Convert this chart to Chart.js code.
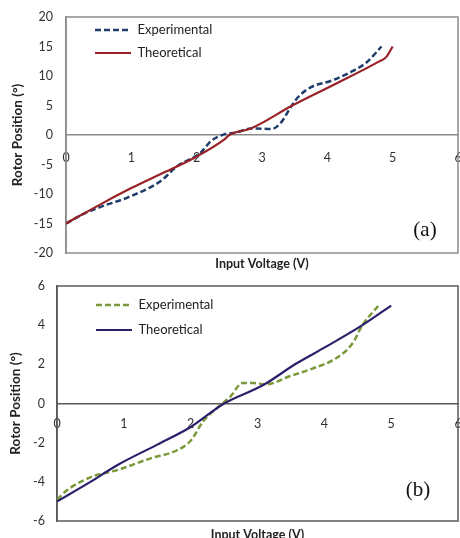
<!DOCTYPE html>
<html>
<head>
<meta charset="utf-8">
<script src="https://cdn.jsdelivr.net/npm/chart.js@4.4.1/dist/chart.umd.min.js"></script>
<style>
  html, body { margin: 0; padding: 0; background: #fff; }
  body { width: 460px; height: 538px; overflow: hidden; position: relative; }
  .box { position: absolute; left: 0; width: 462px; }
  #boxA { top: 0; height: 275px; }
  #boxB { top: 276px; height: 270px; }
</style>
</head>
<body>
<div class="box" id="boxA"><canvas id="chartA"></canvas></div>
<div class="box" id="boxB"><canvas id="chartB"></canvas></div>
<script>
// panel (a)
var expVoltA = [0, 0.3, 0.55, 0.94, 1.45, 1.7, 2.06, 2.22, 2.42, 2.6, 2.83, 2.93, 3.14, 3.29, 3.45, 3.55, 3.75, 4.06, 4.4, 4.6, 4.83];
var expPosA = [-15, -13.2, -12.1, -10.6, -7.8, -5.3, -3.0, -1.0, 0.1, 0.4, 1.1, 1.1, 1.0, 2.1, 4.9, 6.4, 8.1, 9.2, 10.9, 12.3, 15.0];
var theoVoltA = [0, 0.57, 1.0, 1.45, 1.96, 2.42, 2.5, 2.83, 3.45, 4.06, 4.78, 4.9, 5.0];
var theoPosA = [-15, -11.5, -9.0, -6.6, -3.9, -0.8, 0, 1.1, 4.9, 8.3, 12.4, 13.2, 15.0];
var yTicksA = [-20, -15, -10, -5, 0, 5, 10, 15, 20];

// panel (b)
var expVoltB = [0, 0.16, 0.55, 0.9, 1.4, 1.79, 2.0, 2.19, 2.44, 2.59, 2.78, 2.93, 3.13, 3.48, 3.82, 4.17, 4.42, 4.57, 4.81];
var expPosB = [-4.9, -4.4, -3.7, -3.4, -2.8, -2.4, -1.9, -0.9, -0.1, 0.34, 1.05, 1.05, 0.98, 1.39, 1.78, 2.3, 3.06, 4.0, 5.0];
var theoVoltB = [0, 0.5, 0.9, 1.5, 2.0, 2.5, 3.08, 3.58, 4.02, 4.57, 5.0];
var theoPosB = [-5, -4.0, -3.15, -2.1, -1.2, 0, 0.93, 2.04, 2.89, 4.0, 5.0];
var yTicksB = [-6, -4, -2, 0, 2, 4, 6];

var xTicks = [0, 1, 2, 3, 4, 5, 6];
var seriesNames = ['Experimental', 'Theoretical'];

Chart.defaults.font.family = 'Lato';
Chart.defaults.color = '#333';

function pairs(xs, ys) {
    return xs.map(function (x, i) { return { x: x, y: ys[i] }; });
}

// legend placement, frame and the (a)/(b) tag
var panelPlugin = {
    id: 'panel',
    afterLayout: function (chart, args, opts) {
        var lg = chart.legend;
        if (!lg) return;
        var w = lg.width, h = lg.height;
        lg.left = opts.legendX - opts.legendPad;
        lg.top = opts.legendY - opts.legendPad - opts.legendFont / 2;
        lg.right = lg.left + w;
        lg.bottom = lg.top + h;
    },
    beforeDatasetsDraw: function (chart, args, opts) {
        var a = chart.chartArea, ctx = chart.ctx;
        ctx.save();
        ctx.strokeStyle = opts.frameColor;
        ctx.lineWidth = 1.5;
        ctx.strokeRect(a.left, a.top, a.right - a.left, a.bottom - a.top);
        ctx.restore();
    },
    afterDraw: function (chart, args, opts) {
        var a = chart.chartArea, ctx = chart.ctx;
        ctx.save();
        ctx.font = '21px "Liberation Serif"';
        ctx.fillStyle = '#111';
        ctx.textAlign = 'center';
        ctx.textBaseline = 'middle';
        ctx.fillText(opts.tag, a.right - opts.tagDx, a.bottom - opts.tagDy);
        ctx.restore();
    }
};

function legendLabels(chart) {
    var items = Chart.defaults.plugins.legend.labels.generateLabels(chart);
    items.forEach(function (it) {
        var ds = chart.data.datasets[it.datasetIndex];
        it.lineDash = ds.borderDash || [];
        it.lineWidth = ds.borderWidth;
    });
    items.sort(function (a, b) { return a.datasetIndex - b.datasetIndex; });
    return items;
}

function makeChart(id, p) {
    var ctx = document.getElementById(id).getContext('2d');
    return new Chart(ctx, {
        type: 'line',
        data: {
            datasets: [{
                label: seriesNames[0],
                data: pairs(p.expVolt, p.expPos),
                borderColor: p.expColor,
                borderWidth: 2.5,
                borderDash: [6, 3],
                pointRadius: 0,
                cubicInterpolationMode: 'monotone',
                pointStyle: 'line',
                order: 1
            }, {
                label: seriesNames[1],
                data: pairs(p.theoVolt, p.theoPos),
                borderColor: p.theoColor,
                borderWidth: 2.2,
                pointRadius: 0,
                cubicInterpolationMode: 'monotone',
                pointStyle: 'line',
                order: 0
            }]
        },
        options: {
            responsive: true,
            maintainAspectRatio: false,
            animation: false,
            layout: { padding: { top: p.padTop, right: 4, bottom: 0, left: 0 } },
            scales: {
                x: {
                    type: 'linear',
                    position: { y: 0 },
                    min: 0, max: 6,
                    afterBuildTicks: function (s) { s.ticks = xTicks.map(function (v) { return { value: v }; }); },
                    afterFit: function (s) { s.height = 0; s.paddingLeft = 0; s.paddingRight = 0; },
                    grid: { display: false, drawTicks: false },
                    border: { display: true, color: p.zeroColor, width: 1.5 },
                    ticks: { font: { size: 12.5 }, padding: p.xTickPad, maxRotation: 0 }
                },
                xt: {
                    type: 'linear',
                    position: 'bottom',
                    min: 0, max: 6,
                    afterFit: function (s) { s.height = p.xTitleH; },
                    grid: { display: false, drawTicks: false },
                    border: { display: false },
                    ticks: { display: false },
                    title: {
                        display: true,
                        text: 'Input Voltage (V)',
                        font: { size: 12.5, weight: 'bold' },
                        color: '#222',
                        padding: { top: 3, bottom: p.xTitleBottom }
                    }
                },
                y: {
                    type: 'linear',
                    min: p.yTicks[0], max: p.yTicks[p.yTicks.length - 1],
                    afterBuildTicks: function (s) { s.ticks = p.yTicks.map(function (v) { return { value: v }; }); },
                    afterFit: function (s) { s.width = p.yWidth; s.paddingTop = 0; s.paddingBottom = 0; },
                    grid: { display: false, drawTicks: false },
                    border: { display: true, color: p.zeroColor, width: 1.5 },
                    ticks: { font: { size: 12.5 }, padding: p.yTickPad },
                    title: {
                        display: true,
                        text: 'Rotor Position (°)',
                        font: { size: 13.5, weight: 'bold' },
                        color: '#222',
                        padding: { top: p.yTitleTop, bottom: 4 }
                    }
                }
            },
            plugins: {
                legend: {
                    position: 'chartArea',
                    align: 'start',
                    labels: {
                        usePointStyle: true,
                        pointStyleWidth: 36,
                        padding: p.legendPad,
                        color: '#222',
                        font: { size: 13 },
                        generateLabels: legendLabels
                    }
                },
                tooltip: { enabled: false },
                panel: {
                    legendX: p.legendX, legendY: p.legendY, legendPad: p.legendPad, legendFont: 13,
                    frameColor: p.zeroColor,
                    tag: p.tag, tagDx: p.tagDx, tagDy: p.tagDy
                }
            }
        },
        plugins: [panelPlugin]
    });
}

makeChart('chartA', {
    expVolt: expVoltA, expPos: expPosA, theoVolt: theoVoltA, theoPos: theoPosA, yTicks: yTicksA,
    expColor: '#1f3d6b', theoColor: '#9a2226', zeroColor: '#8c8c8c',
    padTop: 17, yWidth: 66, yTickPad: 13, yTitleTop: 10, xTickPad: 15, xTitleH: 22, xTitleBottom: 4,
    legendX: 95, legendY: 30, legendPad: 10,
    tag: '(a)', tagDx: 33, tagDy: 23
});

makeChart('chartB', {
    expVolt: expVoltB, expPos: expPosB, theoVolt: theoVoltB, theoPos: theoPosB, yTicks: yTicksB,
    expColor: '#7a9a3a', theoColor: '#2b1f6a', zeroColor: '#5a5a5a',
    padTop: 10, yWidth: 57, yTickPad: 12, yTitleTop: 8, xTickPad: 13, xTitleH: 25, xTitleBottom: 4,
    legendX: 96, legendY: 29, legendPad: 12,
    tag: '(b)', tagDx: 40, tagDy: 31
});
</script>
</body>
</html>
